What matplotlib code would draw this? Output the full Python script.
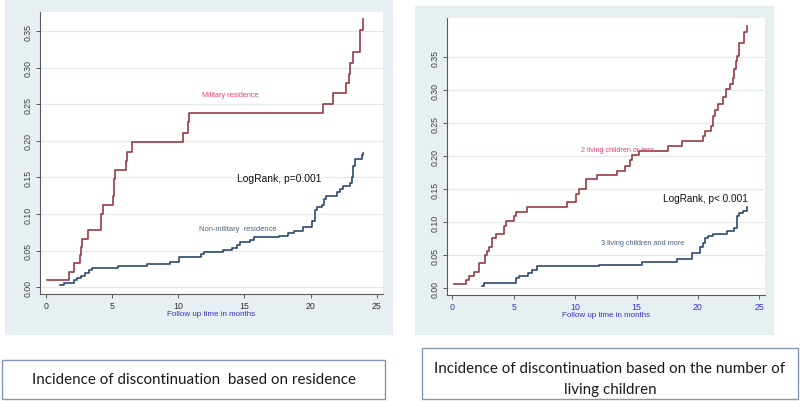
import matplotlib
matplotlib.use("Agg")
import matplotlib.pyplot as plt
from matplotlib.patches import Rectangle

# --- data ---
mil_t = [0.08, 1.79, 2.14, 2.59, 2.65, 2.75, 3.22, 4.18, 4.30, 5.09, 5.15, 5.20,
         6.04, 6.12, 6.50, 10.35, 10.78, 10.82, 20.95, 21.66, 22.64, 22.92, 22.98,
         23.22, 23.74, 23.94]
mil_y = [0.010, 0.021, 0.033, 0.044, 0.055, 0.066, 0.078, 0.100, 0.113, 0.124, 0.148, 0.160,
         0.172, 0.185, 0.198, 0.211, 0.226, 0.238, 0.251, 0.265, 0.279, 0.291, 0.307,
         0.322, 0.351, 0.366]

civ_t = [1.08, 1.38, 2.14, 2.39, 2.67, 2.97, 3.30, 3.52, 5.49, 7.63, 9.39, 10.10,
         11.70, 11.95, 13.37, 14.05, 14.47, 14.65, 15.43, 15.70, 17.64, 18.33, 18.78,
         19.46, 20.14, 20.30, 20.45, 20.89, 21.05, 21.15, 21.98, 22.23, 22.43, 22.98,
         23.11, 23.24, 23.36, 23.87, 23.94]
civ_y = [0.003, 0.006, 0.010, 0.013, 0.016, 0.020, 0.023, 0.026, 0.029, 0.032, 0.035, 0.041,
         0.045, 0.048, 0.051, 0.054, 0.058, 0.0615, 0.065, 0.068, 0.0705, 0.074, 0.077,
         0.083, 0.091, 0.105, 0.109, 0.112, 0.121, 0.125, 0.130, 0.134, 0.139, 0.143,
         0.150, 0.166, 0.175, 0.181, 0.184]

few_t = [0.14, 1.09, 1.36, 1.76, 2.17, 2.66, 2.85, 3.01, 3.26, 3.53, 4.23, 4.37, 5.05,
         5.21, 6.11, 9.36, 10.04, 10.34, 10.86, 11.75, 13.44, 14.03, 14.47, 14.60, 15.20,
         17.59, 18.73, 20.39, 20.55, 21.07, 21.26, 21.39, 21.66, 22.07, 22.26, 22.61,
         22.83, 22.97, 23.08, 23.21, 23.35, 23.78, 23.97]
few_y = [0.006, 0.0126, 0.0187, 0.025, 0.038, 0.0505, 0.057, 0.063, 0.076, 0.082, 0.095,
         0.1025, 0.109, 0.115, 0.1227, 0.130, 0.143, 0.1505, 0.1657, 0.1717, 0.178, 0.186,
         0.194, 0.202, 0.2086, 0.216, 0.2237, 0.231, 0.2388, 0.2464, 0.2615, 0.2706,
         0.2788, 0.2894, 0.302, 0.3095, 0.3186, 0.332, 0.345, 0.352, 0.371, 0.389, 0.398]

many_t = [2.44, 2.58, 5.16, 5.46, 6.19, 6.46, 6.87, 11.97, 15.47, 18.32, 19.49, 20.17,
          20.39, 20.58, 20.85, 21.20, 22.40, 22.94, 23.16, 23.37, 23.70, 23.97]
many_y = [0.003, 0.0076, 0.015, 0.019, 0.023, 0.028, 0.033, 0.036, 0.040, 0.045, 0.053,
          0.062, 0.0686, 0.0758, 0.0788, 0.0823, 0.0864, 0.091, 0.110, 0.114, 0.1176, 0.1227]

x_ticks = [0, 5, 10, 15, 20, 25]
y_ticks = [0.00, 0.05, 0.10, 0.15, 0.20, 0.25, 0.30, 0.35]

red = '#983a43'
navy = '#2b4a6d'
pink = '#e5417e'
label_blue = '#3434c6'
bg = '#e8eff2'

plt.rcParams['font.family'] = ['Liberation Sans', 'DejaVu Sans']

fig = plt.figure(figsize=(8, 4.02), dpi=100)
W, H = 800.0, 402.0


def px_box(x0, y0, x1, y1):
    # pixel box (top-left origin) -> figure fraction rect
    return [x0 / W, (H - y1) / H, (x1 - x0) / W, (y1 - y0) / H]


def panel(bg_box, ax_box, xlim, ylim, tick_color):
    bg_rect = px_box(*bg_box)
    fig.add_artist(Rectangle((bg_rect[0], bg_rect[1]), bg_rect[2], bg_rect[3],
                             transform=fig.transFigure, facecolor=bg,
                             edgecolor='none', zorder=0))
    ax = fig.add_axes(px_box(*ax_box))
    ax.set_facecolor('white')
    ax.set_xlim(*xlim)
    ax.set_ylim(*ylim)
    ax.set_xticks(x_ticks)
    ax.set_yticks(y_ticks)
    ax.set_yticklabels(['%.2f' % v for v in y_ticks], rotation=90, va='center')
    for s in ['top', 'right']:
        ax.spines[s].set_visible(False)
    for s in ['left', 'bottom']:
        ax.spines[s].set_color('#5a5a5a')
        ax.spines[s].set_linewidth(0.8)
    ax.tick_params(axis='both', direction='out', length=3, width=0.7,
                   color='#5a5a5a', labelsize=6.3, pad=2)
    ax.tick_params(axis='x', labelcolor=tick_color)
    ax.tick_params(axis='y', labelcolor='#404040')
    ax.grid(axis='y', color='#e2e9ec', linewidth=0.8)
    ax.set_axisbelow(True)
    ax.set_xlabel('Follow up time in months', color=label_blue, fontsize=5.8, labelpad=0)
    return ax


# left panel: residence
ax1 = panel((5, 1, 393, 336), (40, 13, 383, 295), (-0.43, 25.47), (-0.0092, 0.376), '#303030')
ax1.step(mil_t, mil_y, where='post', color=red, lw=1.2)
ax1.step(civ_t, civ_y, where='post', color=navy, lw=1.2)
ax1.text(13.9, 0.263, 'Military residence', color=pink, fontsize=5.2, ha='center', va='center')
ax1.text(17.6, 0.149, 'LogRank, p=0.001', color='#111111', fontsize=7.4, ha='center', va='center')
ax1.text(14.5, 0.080, 'Non-military  residence', color='#4a6282', fontsize=5.4,
         ha='center', va='center')

# right panel: number of living children
ax2 = panel((415, 7, 774, 336), (447, 19, 765, 296), (-0.43, 25.46), (-0.0102, 0.4095), label_blue)
ax2.step(few_t, few_y, where='post', color=red, lw=1.2)
ax2.step(many_t, many_y, where='post', color=navy, lw=1.2)
ax2.text(13.5, 0.211, '2 living children or less', color=pink, fontsize=5.2,
         ha='center', va='center')
ax2.text(20.6, 0.137, 'LogRank, p< 0.001', color='#111111', fontsize=7.2, ha='center', va='center')
ax2.text(15.5, 0.070, '3 living children and more', color='#4a6282', fontsize=5.3,
         ha='center', va='center')

# caption boxes under the panels
for box, lines in [((2, 361, 385, 400), ['Incidence of discontinuation  based on residence']),
                   ((422, 349, 798, 400), ['Incidence of discontinuation based on the number of',
                                           'living children'])]:
    r = px_box(*box)
    fig.add_artist(Rectangle((r[0], r[1]), r[2], r[3], transform=fig.transFigure,
                             facecolor='white', edgecolor='#8398b0', linewidth=1.0))
    cx = (box[0] + box[2]) / 2.0
    if len(lines) == 1:
        ys = [(box[1] + box[3]) / 2.0]
    else:
        ys = [369, 390]
    for txt, yy in zip(lines, ys):
        fig.text(cx / W, (H - yy) / H, txt, ha='center', va='center', fontsize=10.9,
                 family=['Lato', 'DejaVu Sans'], color='#1a1a1a')

fig.savefig('out.png', dpi=100)
